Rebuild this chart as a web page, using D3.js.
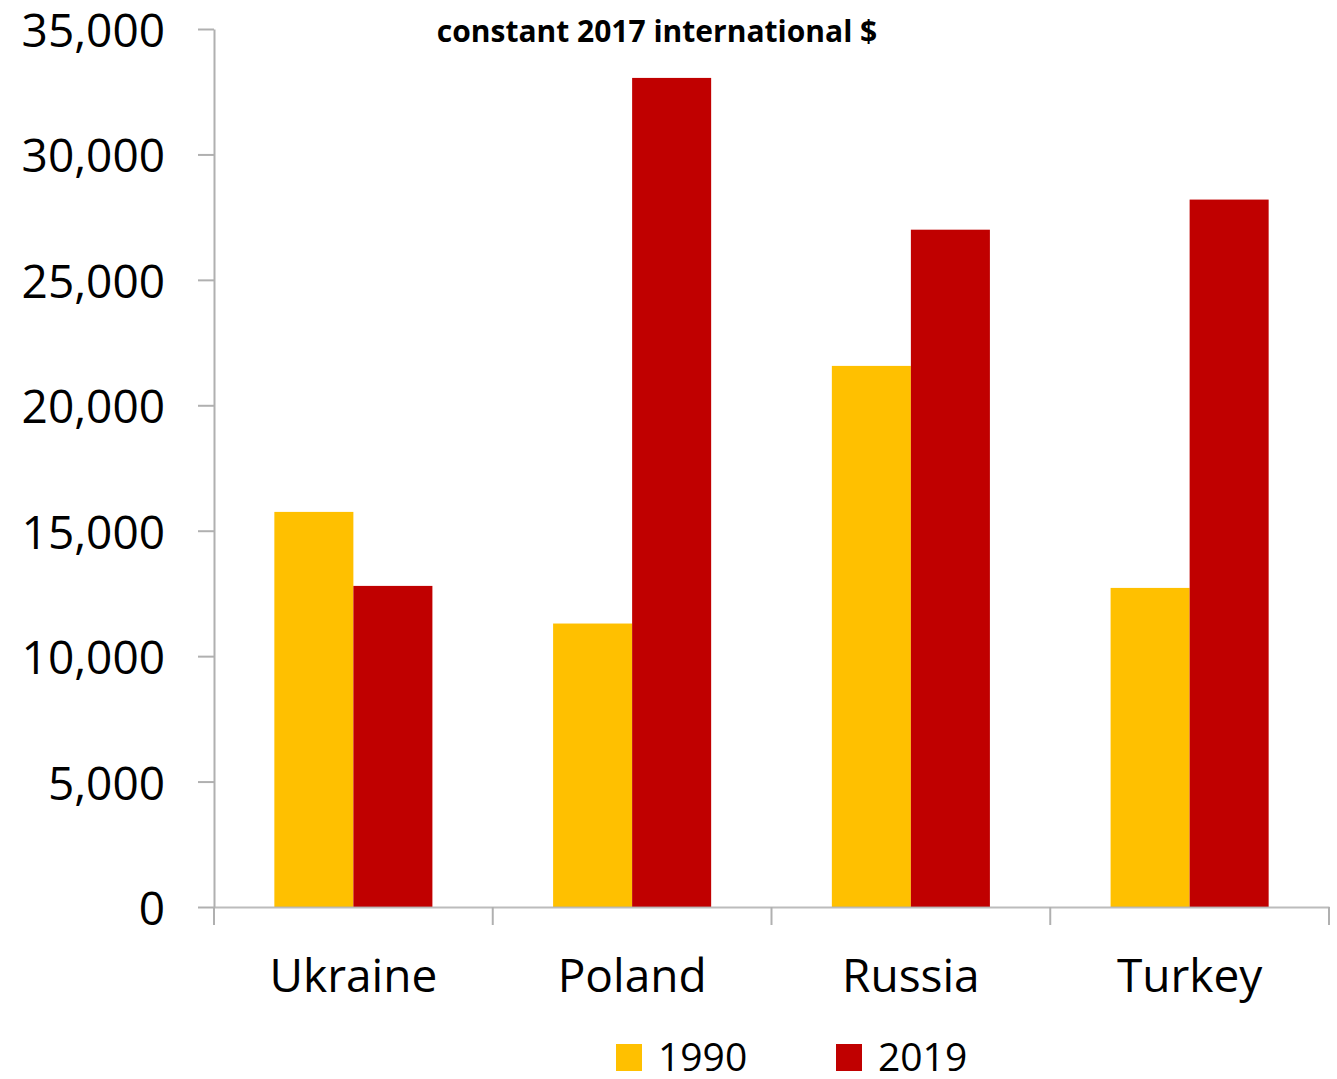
<!DOCTYPE html>
<html>
<head>
<meta charset="utf-8">
<script src="https://cdn.jsdelivr.net/npm/d3@7"></script>
<style>
  body { margin: 0; background: #fff; }
  svg { font-family: "Open Sans", "Noto Sans", sans-serif; }
</style>
</head>
<body>
<svg id="canvas" width="1337" height="1079"></svg>
<script>
let countries = ["Ukraine", "Poland", "Russia", "Turkey"];
let years = ["1990", "2019"];
let values1990 = [15750, 11300, 21570, 12720];
let values2019 = [12800, 33050, 27000, 28200];
let yTicks = [0, 5000, 10000, 15000, 20000, 25000, 30000, 35000];
let colors = ["#FFC000", "#C00000"];
let title = "constant 2017 international $";

let canvas = d3.select("#canvas");

let plotLeft = 214, plotRight = 1329, plotTop = 29, plotBottom = 907;

let x = d3.scaleBand().domain(countries).range([plotLeft, plotRight]).paddingInner(0.433).paddingOuter(0.2165);
let xAxisScale = d3.scaleBand().domain(countries).range([plotLeft, plotRight]);
let xSub = d3.scaleBand().domain(years).range([0, x.bandwidth()]);
let y = d3.scaleLinear().domain([0, 35000]).range([plotBottom, plotTop]);

let rows = countries.map((c, i) => ({ country: c, vals: [values1990[i], values2019[i]] }));

// bars
let groups = canvas.selectAll("g.group")
    .data(rows)
    .enter()
    .append("g")
    .attr("class", "group")
    .attr("transform", d => "translate(" + x(d.country) + ",0)");

groups.selectAll("rect")
    .data(d => d.vals.map((v, i) => ({ year: years[i], value: v, color: colors[i] })))
    .enter()
    .append("rect")
    .attr("x", d => xSub(d.year))
    .attr("y", d => y(d.value))
    .attr("width", xSub.bandwidth())
    .attr("height", d => y(0) - y(d.value))
    .attr("fill", d => d.color);

// y axis
let yAxis = d3.axisLeft(y).tickValues(yTicks).tickSize(16).tickSizeOuter(0)
    .tickFormat(d3.format(","));
let yG = canvas.append("g").attr("transform", "translate(" + plotLeft + ",0)").call(yAxis);
yG.select(".domain").attr("stroke", "#B0B0B0").attr("stroke-width", 2);
yG.selectAll(".tick line").attr("stroke", "#B0B0B0").attr("stroke-width", 2);
yG.selectAll(".tick text")
    .attr("x", -49)
    .attr("fill", "#000")
    .style("font-size", "46px")
    .style("font-family", "Open Sans")
    .attr("dy", "0.38em");

// x axis
let xAxis = d3.axisBottom(xAxisScale).tickSize(0).tickSizeOuter(0);
let xG = canvas.append("g").attr("transform", "translate(0," + plotBottom + ")").call(xAxis);
xG.select(".domain").attr("stroke", "#B0B0B0").attr("stroke-width", 2).attr("stroke-opacity", 0.85);
xG.selectAll(".tick text")
    .attr("y", 85)
    .attr("dy", 0)
    .attr("fill", "#000")
    .style("font-size", "46px")
    .style("font-family", "Open Sans");

let boundaries = countries.map(c => xAxisScale(c)).concat([plotRight]);
canvas.selectAll("line.xtick")
    .data(boundaries)
    .enter()
    .append("line")
    .attr("class", "xtick")
    .attr("x1", d => d).attr("x2", d => d)
    .attr("y1", plotBottom).attr("y2", plotBottom + 18)
    .attr("stroke", "#B0B0B0")
    .attr("stroke-width", 2);

// title
canvas.append("text")
    .attr("x", 657)
    .attr("y", 42)
    .attr("text-anchor", "middle")
    .style("font-size", "30px")
    .style("font-weight", "bold")
    .text(title);

// legend
let legendX = [616, 836];
let legend = canvas.selectAll("g.legend")
    .data(years)
    .enter()
    .append("g")
    .attr("class", "legend")
    .attr("transform", (d, i) => "translate(" + legendX[i] + ",1044)");
legend.append("rect")
    .attr("width", 26).attr("height", 27)
    .attr("fill", (d, i) => colors[i]);
legend.append("text")
    .attr("x", 42)
    .attr("y", 27)
    .style("font-size", "39px")
    .text(d => d);
</script>
</body>
</html>
